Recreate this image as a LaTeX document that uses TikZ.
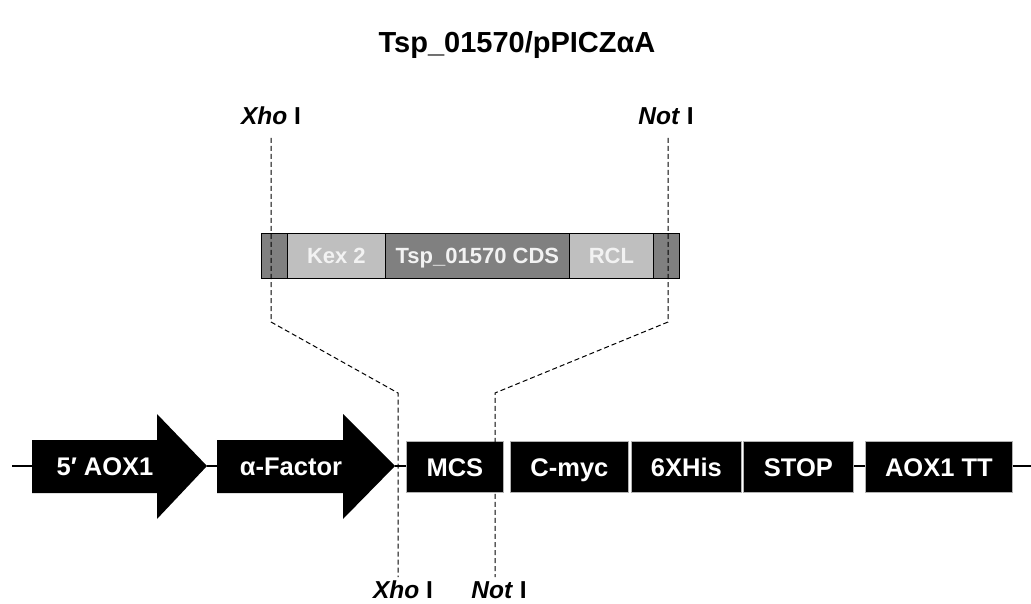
\documentclass[tikz,border=0pt]{standalone}
\usepackage{fontspec}
\setmainfont{Liberation Sans}
\begin{document}
\begin{tikzpicture}[x=1pt,y=-1pt,
  blk/.style={draw=gray!60, line width=0.8pt, fill=black, text=white, font=\bfseries\fontsize{25.5}{28}\selectfont, inner sep=0pt, minimum height=51pt, text height=18.3pt, text depth=0pt, anchor=north west},
  seg/.style={draw=black, line width=0.8pt, text=white!95!black, font=\bfseries\fontsize{22}{25}\selectfont, inner sep=0pt, minimum height=45pt, text height=15.8pt, text depth=0pt, anchor=north west},
  dk/.style={seg, fill=gray},
  lt/.style={seg, fill=gray!50},
  arr/.style={fill=black},
  lbl/.style={font=\bfseries\fontsize{25.5}{28}\selectfont, text=white, text height=18.3pt, text depth=0pt, inner sep=0pt},
  site/.style={font=\bfseries\fontsize{24.5}{28}\selectfont, inner sep=1pt},
  dsh/.style={draw=black, line width=1pt, dash pattern=on 5pt off 3pt},
  bb/.style={draw=black, line width=1.6pt}
]
\useasboundingbox (0,0) rectangle (1031,604);

% title
\node[font=\bfseries\fontsize{29}{33}\selectfont] (title) at (517,45) {Tsp\_01570/pPICZαA};

% backbone ends
\coordinate (bbL) at (12,466);
\coordinate (bbR) at (1031,466);

% arrows
\fill[arr] (32,440) -- (157,440) -- (157,414) -- (207,466) -- (157,519) -- (157,493) -- (32,493) -- cycle;
\node[lbl] (aox) at (105,466) {5′ AOX1};
\fill[arr] (217,440) -- (343,440) -- (343,414) -- (395,466) -- (343,519) -- (343,493) -- (217,493) -- cycle;
\node[lbl] (afac) at (291,466) {α-Factor};
\coordinate (aoxL) at (32,466);
\coordinate (aoxR) at (207,466);
\coordinate (afL) at (217,466);
\coordinate (afR) at (395,466);

% boxes
\node[blk, minimum width=97pt] (mcs) at (406,441) {MCS};
\node[blk, minimum width=118pt] (cmyc) at (510,441) {C-myc};
\node[blk, minimum width=110pt] (his) at (631,441) {6XHis};
\node[blk, minimum width=110pt] (stop) at (743,441) {STOP};
\node[blk, minimum width=147pt] (tt) at (865,441) {AOX1 TT};

\draw[bb] (bbL) -- (aoxL);
\draw[bb] (aoxR) -- (afL);
\draw[bb] (afR) -- (mcs.west |- afR);
\draw[bb] (stop.east |- bbR) -- (tt.west |- bbR);
\draw[bb] (tt.east |- bbR) -- (bbR);

% insert
\node[dk, minimum width=26pt] (i1) at (261,233) {};
\node[lt, minimum width=98pt] (kex) at (287,233) {Kex 2};
\node[dk, minimum width=184pt] (cds) at (385,233) {Tsp\_01570 CDS};
\node[lt, minimum width=84pt] (rcl) at (569,233) {RCL};
\node[dk, minimum width=26pt] (i2) at (653,233) {};

% site labels
\node[site] (xhoT) at (271,116) {\textit{Xho} I};
\node[site] (notT) at (666,116) {\textit{Not} I};
\node[site] (xhoB) at (403,590) {\textit{Xho} I};
\node[site] (notB) at (499,590) {\textit{Not} I};

% dashed guides
\coordinate (x1) at (271,138);
\coordinate (x2) at (271,322);
\coordinate (x3) at (398,393);
\coordinate (x4) at (398,577);
\coordinate (n1) at (668,138);
\coordinate (n2) at (668,322);
\coordinate (n3) at (495,393);
\coordinate (n4) at (495,577);
\draw[dsh] (x1) -- (x2) -- (x3) -- (x4);
\draw[dsh] (n1) -- (n2) -- (n3) -- (n4);
\end{tikzpicture}
\end{document}
